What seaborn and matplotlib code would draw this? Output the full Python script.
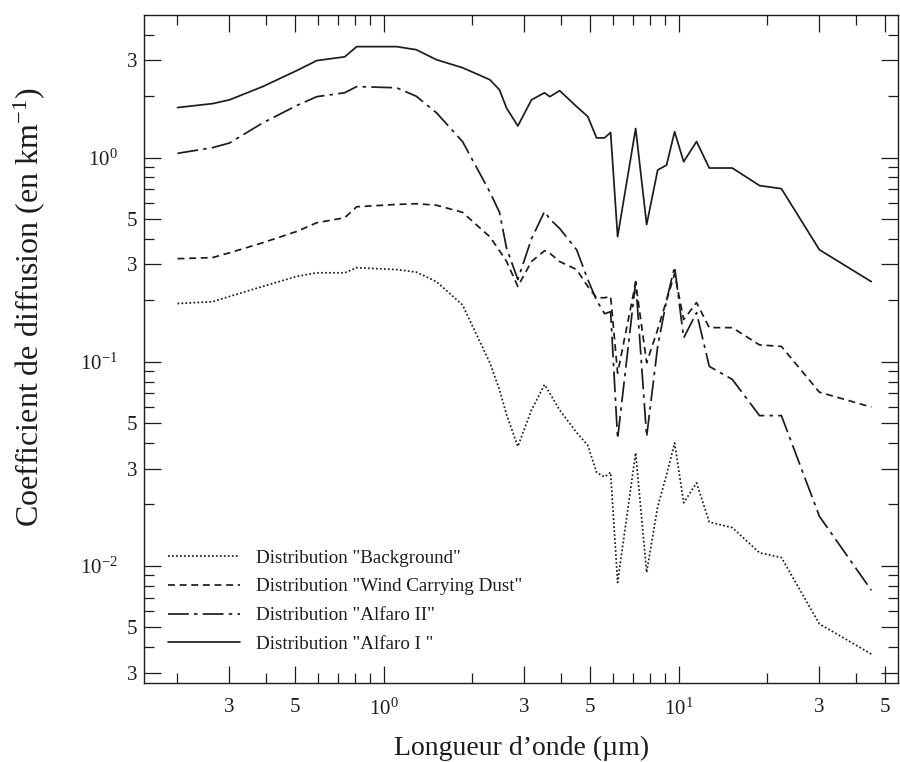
import matplotlib
matplotlib.use("Agg")
import matplotlib.pyplot as plt
import matplotlib.ticker as mticker
import matplotlib.transforms as mtransforms
import seaborn as sns
import pandas as pd

# wavelength grid (µm)
wavelength = [0.2, 0.263, 0.3, 0.389, 0.507, 0.593, 0.738, 0.81, 1.107, 1.29, 1.51,
              1.85, 2.29, 2.47, 2.61, 2.85, 3.17, 3.51, 3.66, 3.95, 4.51, 4.92, 5.27,
              5.61, 5.88, 6.21, 7.15, 7.79, 8.49, 9.1, 9.69, 10.4, 11.5, 12.7, 15.2,
              18.8, 22.3, 30.0, 45.0]

alfaro_1 = [1.76, 1.84, 1.92, 2.23, 2.67, 2.99, 3.12, 3.5, 3.5, 3.38, 3.02,
            2.76, 2.41, 2.15, 1.75, 1.43, 1.92, 2.08, 1.99, 2.13, 1.78, 1.59, 1.25,
            1.25, 1.33, 0.41, 1.39, 0.47, 0.87, 0.92, 1.34, 0.955, 1.2, 0.89, 0.89,
            0.73, 0.705, 0.354, 0.247]

alfaro_2 = [1.05, 1.12, 1.18, 1.48, 1.80, 1.99, 2.08, 2.23, 2.2, 2.0, 1.66,
            1.2, 0.68, 0.54, 0.36, 0.253, 0.40, 0.545, 0.5, 0.45, 0.354, 0.253, 0.2,
            0.172, 0.176, 0.042, 0.247, 0.043, 0.119, 0.2, 0.292, 0.131, 0.174, 0.095, 0.082,
            0.0545, 0.0545, 0.0175, 0.0076]

wind_dust = [0.32, 0.324, 0.342, 0.383, 0.435, 0.48, 0.508, 0.575, 0.59, 0.595, 0.585,
             0.54, 0.41, 0.35, 0.31, 0.234, 0.31, 0.35, 0.34, 0.31, 0.283, 0.234, 0.206,
             0.206, 0.209, 0.088, 0.244, 0.099, 0.144, 0.2, 0.27, 0.161, 0.195, 0.147, 0.147,
             0.121, 0.119, 0.071, 0.060]

background = [0.193, 0.197, 0.209, 0.234, 0.262, 0.273, 0.273, 0.289, 0.283, 0.275, 0.247,
              0.19, 0.099, 0.073, 0.055, 0.0385, 0.058, 0.0773, 0.07, 0.058, 0.045, 0.039, 0.0287,
              0.0273, 0.0287, 0.0083, 0.0358, 0.0093, 0.0195, 0.028, 0.040, 0.0204, 0.0255, 0.0164, 0.0154,
              0.0116, 0.011, 0.0052, 0.0037]

labels = ['Distribution "Background"', 'Distribution "Wind Carrying Dust"',
          'Distribution "Alfaro II"', 'Distribution "Alfaro I "']

x_major = [0.3, 0.5, 1, 3, 5, 10, 30, 50]
x_major_labels = ['3', '5', '$10^{0}$', '3', '5', '$10^{1}$', '3', '5']
x_minor = [0.2, 0.4, 0.6, 0.7, 0.8, 0.9, 2, 4, 6, 7, 8, 9, 20, 40]
y_major = [3, 1, 0.5, 0.3, 0.1, 0.05, 0.03, 0.01, 0.005, 0.003]
y_major_labels = ['3', '$10^{0}$', '5', '3', '$10^{-1}$', '5', '3', '$10^{-2}$', '5', '3']
y_minor = [4, 2, 0.9, 0.8, 0.7, 0.6, 0.4, 0.2, 0.09, 0.08, 0.07, 0.06, 0.04, 0.02,
           0.009, 0.008, 0.007, 0.006, 0.004]

sns.set_theme(style="ticks")
plt.rcParams['font.family'] = ['Liberation Serif', 'DejaVu Serif']
plt.rcParams['mathtext.fontset'] = 'custom'
plt.rcParams['mathtext.rm'] = 'Liberation Serif'
plt.rcParams['mathtext.it'] = 'Liberation Serif:italic'

fig = plt.figure(figsize=(9, 7.62), dpi=100)
ax = fig.add_axes([0.16, 0.1037, 0.838, 0.8766])

ink = '#1c1c1c'
series = [background, wind_dust, alfaro_2, alfaro_1]
styles = [(0, (1.0, 1.3)), (0, (4, 2.7)), (0, (12, 3, 2, 3)), '-']
for vals, lab, ls in zip(series, labels, styles):
    df = pd.DataFrame({'wl': wavelength, 'v': vals})
    sns.lineplot(data=df, x='wl', y='v', ax=ax, color=ink, linewidth=1.25,
                 linestyle=ls, label=lab, estimator=None, sort=False)

ax.set_xscale('log')
ax.set_yscale('log')
ax.set_xlim(0.154, 55.5)
ax.set_ylim(0.00267, 5.0)

ax.xaxis.set_major_locator(mticker.FixedLocator(x_major))
ax.xaxis.set_major_formatter(mticker.FixedFormatter(x_major_labels))
ax.xaxis.set_minor_locator(mticker.FixedLocator(x_minor))
ax.xaxis.set_minor_formatter(mticker.NullFormatter())
ax.yaxis.set_major_locator(mticker.FixedLocator(y_major))
ax.yaxis.set_major_formatter(mticker.FixedFormatter(y_major_labels))
ax.yaxis.set_minor_locator(mticker.FixedLocator(y_minor))
ax.yaxis.set_minor_formatter(mticker.NullFormatter())

ax.tick_params(which='both', direction='in', top=True, right=True, color=ink)
ax.tick_params(which='major', length=12.5, width=0.9, labelsize=15, labelcolor=ink)
ax.tick_params(which='minor', length=7, width=0.9)
ax.tick_params(axis='x', which='major', pad=11)
ax.tick_params(axis='y', which='major', pad=5)
for s in ax.spines.values():
    s.set_linewidth(1.0)
    s.set_color(ink)
    s.set_visible(True)

ax.set_xlabel("Longueur d\u2019onde (\u00b5m)", fontsize=20, color=ink, labelpad=12)
ax.set_ylabel("Coefficient de diffusion (en km$^{-1}$)", fontsize=23, color=ink)
ax.yaxis.set_label_coords(-0.128, 0.563)

leg = ax.legend(loc='lower left', bbox_to_anchor=(0.032, 0.045), frameon=False,
                fontsize=13.7, handlelength=3.8, handletextpad=0.84, labelspacing=0.6,
                borderpad=0, borderaxespad=0)
for t in leg.get_texts():
    t.set_color(ink)

# power-of-ten labels on the y axis sit further left than the plain digits
fig.canvas.draw()
shift = mtransforms.ScaledTranslation(-14 / 72, 0, fig.dpi_scale_trans)
for tick, lab in zip(ax.yaxis.get_major_ticks(), y_major_labels):
    if lab.startswith('$10'):
        tick.label1.set_transform(tick.label1.get_transform() + shift)

fig.savefig('out.png', dpi=100)
